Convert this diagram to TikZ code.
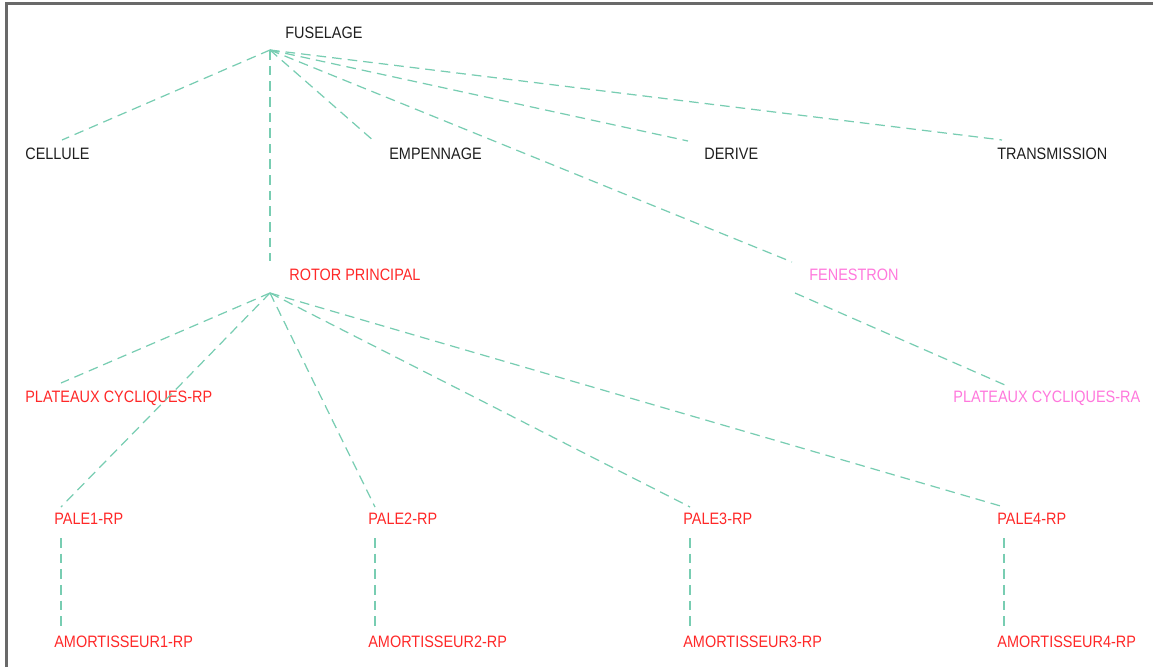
\documentclass[tikz,border=0pt]{standalone}
\usepackage{fontspec}
\setmainfont{Liberation Sans}[FakeStretch=0.875]
\usetikzlibrary{calc}
\definecolor{treeline}{RGB}{120,205,178}
\definecolor{treeframe}{RGB}{105,105,105}
\definecolor{nodeblack}{RGB}{30,30,30}
\definecolor{nodered}{RGB}{255,40,40}
\definecolor{nodepink}{RGB}{255,120,220}
\tikzset{
  tlabel/.style={anchor=base west, inner sep=0pt, text=nodeblack,
                 font=\fontsize{9.4}{11}\selectfont},
  tred/.style  ={tlabel, text=nodered},
  tpink/.style ={tlabel, text=nodepink},
  tlink/.style ={treeline, line width=0.7pt, dash pattern=on 5.5pt off 3.4pt},
  tframe/.style={treeframe, line width=1.2pt},
}
\begin{document}
\begin{tikzpicture}[x=0.02cm, y=-0.02cm]
  \useasboundingbox (0,0) rectangle (1153,667);
  \draw[tframe] (6.5,667) -- (6.5,3.5) -- (1153,3.5);
  % labels
  \node[tlabel] (fuselage)     at (285,38)  {FUSELAGE};
  \node[tlabel] (cellule)      at (25,159)  {CELLULE};
  \node[tlabel] (empennage)    at (389,159) {EMPENNAGE};
  \node[tlabel] (derive)       at (704,159) {DERIVE};
  \node[tlabel] (transmission) at (997,159) {TRANSMISSION};
  \node[tred]   (rotor)        at (289,280) {ROTOR PRINCIPAL};
  \node[tpink]  (fenestron)    at (809,280) {FENESTRON};
  \node[tred]   (platrp)       at (25,402)  {PLATEAUX CYCLIQUES-RP};
  \node[tpink]  (platra)       at (953,402) {PLATEAUX CYCLIQUES-RA};
  \foreach \i/\x in {1/54,2/368,3/683,4/997} {
    \node[tred] (pale\i)  at (\x,524) {PALE\i-RP};
    \node[tred] (amort\i) at (\x,647) {AMORTISSEUR\i-RP};
    \coordinate (pale\i-n)  at (\x+7,507);
    \coordinate (pale\i-s)  at (\x+7,538);
    \coordinate (amort\i-n) at (\x+7,628);
  }
  % ports
  \coordinate (fuselage-s)     at (270,50);
  \coordinate (cellule-n)      at (62,140);
  \coordinate (empennage-n)    at (375,142);
  \coordinate (derive-n)       at (688,141);
  \coordinate (transmission-n) at (1002,140);
  \coordinate (rotor-n)        at (270,261);
  \coordinate (rotor-s)        at (270,293);
  \coordinate (fenestron-n)    at (792,262);
  \coordinate (fenestron-s)    at (795,293);
  \coordinate (platrp-n)       at (61,383);
  \coordinate (platra-n)       at (1005,385);
  % links
  \foreach \c in {cellule,empennage,derive,transmission,rotor,fenestron}
    \draw[tlink] (fuselage-s) -- (\c-n);
  \foreach \c in {platrp,pale1,pale2,pale3,pale4}
    \draw[tlink] (rotor-s) -- (\c-n);
  \draw[tlink] (fenestron-s) -- (platra-n);
  \foreach \i in {1,...,4}
    \draw[tlink] (pale\i-s) -- (amort\i-n);
\end{tikzpicture}
\end{document}
